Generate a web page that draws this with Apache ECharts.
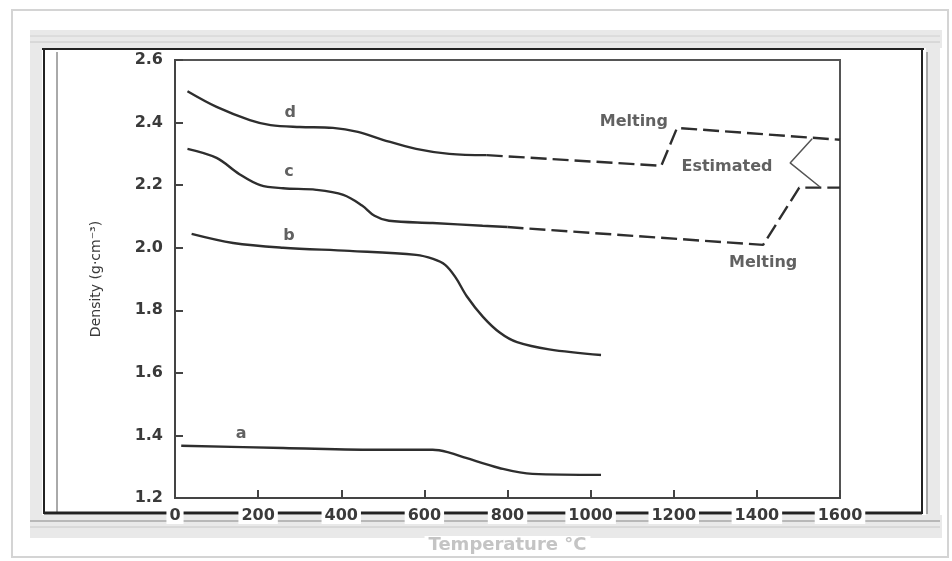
<!DOCTYPE html>
<html>
<head>
<meta charset="utf-8">
<script src="https://cdn.jsdelivr.net/npm/echarts@6/dist/echarts.min.js"></script>
<style>
  html, body { margin: 0; padding: 0; background: #fff; }
  #chart { width: 952px; height: 561px; }
</style>
</head>
<body>
<div id="chart"></div>
<script>
// Density of carbon materials versus temperature (curves a-d)
const xTicks = [0, 200, 400, 600, 800, 1000, 1200, 1400, 1600];
const yTicks = [1.2, 1.4, 1.6, 1.8, 2.0, 2.2, 2.4, 2.6];

// curve d: measured (solid) then estimated (dashed) with melting step
const dMeasured = [[30, 2.50], [100, 2.45], [180, 2.408], [230, 2.392], [300, 2.386], [380, 2.383],
                   [440, 2.37], [500, 2.345], [580, 2.316], [660, 2.30], [750, 2.296]];
const dEstimated = [[750, 2.296], [1170, 2.262], [1208, 2.383], [1600, 2.345]];

// curve c
const cMeasured = [[30, 2.316], [100, 2.287], [155, 2.235], [205, 2.20], [260, 2.19], [340, 2.185],
                   [405, 2.169], [450, 2.135], [480, 2.102], [515, 2.086], [620, 2.079], [740, 2.07], [800, 2.066]];
const cEstimated = [[800, 2.066], [1415, 2.009], [1502, 2.192], [1600, 2.192]];

// curve b
const bMeasured = [[40, 2.044], [140, 2.015], [260, 2.0], [420, 1.99], [580, 1.977], [621, 1.964],
                   [650, 1.945], [675, 1.905], [702, 1.845], [741, 1.779], [782, 1.728], [823, 1.698],
                   [900, 1.675], [1025, 1.657]];

// curve a
const aMeasured = [[15, 1.367], [260, 1.36], [500, 1.354], [620, 1.354], [660, 1.345], [700, 1.328],
                   [780, 1.296], [860, 1.277], [1025, 1.274]];

// brace joining the two estimated branches
const braceLine = [[1533, 2.348], [1480, 2.271], [1552, 2.194]];

// text annotations: [temperature, density, text]
const tags = [[277, 2.431, 'd'], [274, 2.242, 'c'], [274, 2.038, 'b'], [159, 1.405, 'a']];
const notes = [[1104, 2.402, 'Melting'], [1328, 2.258, 'Estimated'], [1415, 1.951, 'Melting']];

const ink = '#2e2e2e';
const textInk = '#3a3a3a';
const font = 'DejaVu Sans';

function solid(name, data) {
  return {
    name, type: 'line', data, smooth: 0.35, symbol: 'none',
    lineStyle: { color: ink, width: 2.4 }, z: 3
  };
}
function dashed(name, data) {
  return {
    name, type: 'line', data, smooth: false, symbol: 'none',
    lineStyle: { color: ink, width: 2.4, type: [16, 6] }, z: 3
  };
}
function textLayer(name, data, size) {
  return {
    name, type: 'scatter', data, symbolSize: 0, z: 4,
    label: {
      show: true, position: 'inside', formatter: p => p.data[2],
      color: textInk, fontFamily: font, fontWeight: 'bold', fontSize: size
    }
  };
}

// scanned-page frame around the plot
const band = '#e9e9e9';
const frame = [
  { type: 'rect', shape: { x: 12, y: 10, width: 936, height: 547 }, style: { fill: '#fff', stroke: '#d4d4d4', lineWidth: 2 } },
  { type: 'rect', shape: { x: 30, y: 30, width: 912, height: 18 }, style: { fill: band } },
  { type: 'rect', shape: { x: 30, y: 30, width: 12, height: 508 }, style: { fill: band } },
  { type: 'rect', shape: { x: 926, y: 30, width: 14, height: 508 }, style: { fill: band } },
  { type: 'rect', shape: { x: 30, y: 515, width: 912, height: 23 }, style: { fill: band } },
  { type: 'line', shape: { x1: 30, y1: 36, x2: 940, y2: 36 }, style: { stroke: '#d0d0d0', lineWidth: 1 } },
  { type: 'line', shape: { x1: 30, y1: 42, x2: 940, y2: 42 }, style: { stroke: '#c8c8c8', lineWidth: 1 } },
  { type: 'line', shape: { x1: 30, y1: 521, x2: 940, y2: 521 }, style: { stroke: '#b8b8b8', lineWidth: 2 } },
  { type: 'line', shape: { x1: 30, y1: 527, x2: 940, y2: 527 }, style: { stroke: '#c8c8c8', lineWidth: 1 } },
  { type: 'line', shape: { x1: 42, y1: 49, x2: 924, y2: 49 }, style: { stroke: '#222', lineWidth: 2 } },
  { type: 'line', shape: { x1: 44, y1: 49, x2: 44, y2: 514 }, style: { stroke: '#222', lineWidth: 2 } },
  { type: 'line', shape: { x1: 57, y1: 52, x2: 57, y2: 512 }, style: { stroke: '#555', lineWidth: 1 } },
  { type: 'line', shape: { x1: 922, y1: 49, x2: 922, y2: 514 }, style: { stroke: '#222', lineWidth: 2 } },
  { type: 'line', shape: { x1: 927, y1: 52, x2: 927, y2: 514 }, style: { stroke: '#666', lineWidth: 1 } },
  { type: 'line', shape: { x1: 44, y1: 513, x2: 922, y2: 513 }, style: { stroke: '#222', lineWidth: 3 } }
].map(e => Object.assign(e, { z: -10, silent: true }));

const chart = echarts.init(document.getElementById('chart'), null, { renderer: 'canvas' });
chart.setOption({
  animation: false,
  backgroundColor: '#fff',
  graphic: frame,
  grid: {
    left: 175, right: 112, top: 60, bottom: 63,
    show: true, borderColor: '#555', borderWidth: 2, backgroundColor: '#fff', z: 1
  },
  xAxis: {
    type: 'value', min: xTicks[0], max: xTicks[xTicks.length - 1], interval: 200, z: 5,
    name: 'Temperature °C', nameLocation: 'middle', nameGap: 38,
    nameTextStyle: { color: '#c4c4c4', fontFamily: font, fontWeight: 'bold', fontSize: 18,
                     backgroundColor: '#fff', padding: [0, 4] },
    axisLine: { lineStyle: { color: '#444', width: 2 } },
    axisTick: { inside: true, length: 8, lineStyle: { color: '#444', width: 2 } },
    axisLabel: { margin: 10, color: textInk, fontFamily: font, fontWeight: 'bold', fontSize: 16,
                 backgroundColor: '#fff', padding: [0, 3],
                 formatter: v => String(v) },
    splitLine: { show: false }
  },
  yAxis: {
    type: 'value', min: yTicks[0], max: yTicks[yTicks.length - 1], interval: 0.2, z: 5,
    name: 'Density (g·cm⁻³)', nameLocation: 'middle', nameGap: 72,
    nameTextStyle: { color: textInk, fontFamily: font, fontSize: 14 },
    axisLine: { lineStyle: { color: '#444', width: 2 } },
    axisTick: { inside: true, length: 8, lineStyle: { color: '#444', width: 2 } },
    axisLabel: { margin: 12, color: textInk, fontFamily: font, fontWeight: 'bold', fontSize: 16,
                 formatter: v => v.toFixed(1) },
    splitLine: { show: false }
  },
  series: [
    solid('d', dMeasured), dashed('d estimated', dEstimated),
    solid('c', cMeasured), dashed('c estimated', cEstimated),
    solid('b', bMeasured),
    solid('a', aMeasured),
    { name: 'brace', type: 'line', data: braceLine, symbol: 'none', smooth: false,
      lineStyle: { color: '#555', width: 1.5 }, z: 3 },
    textLayer('curve tags', tags, 16),
    textLayer('notes', notes, 16)
  ]
});
</script>
</body>
</html>
